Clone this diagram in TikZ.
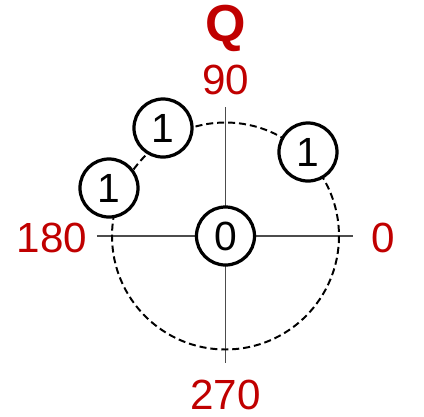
\documentclass[tikz,border=0pt]{standalone}
\usepackage{fontspec}
\setmainfont{Liberation Sans}
\usepackage{tikz}
\usepackage{xcolor}
\definecolor{rojo}{RGB}{192,0,0}

\begin{document}
\begin{tikzpicture}[x=0.025cm, y=-0.025cm,
			 punto/.style={circle, draw, line width=2.3pt, fill=white, minimum size=1.45cm, inner sep=0pt, font=\fontsize{29}{29}\selectfont},
			 etiqueta/.style={text=rojo, inner sep=0pt, font=\fontsize{30}{30}\selectfont},
			 eje/.style={black!70, line width=1.2pt}
  		]
	\useasboundingbox (0,0) rectangle (424,417);

	%Ejes
		\coordinate (c) at (225.5,236);
		\coordinate (izq) at (97,236);
		\coordinate (der) at (353,236);
		\coordinate (arr) at (225.5,107);
		\coordinate (aba) at (225.5,363);
		\draw[eje] (izq) -- (der);
		\draw[eje] (arr) -- (aba);
	%Circulo punteado
		\draw[dash pattern=on 5pt off 2.8pt, line width=1.4pt] (c) circle (113.5);

	%Creamos los puntos
		\node[punto] (p0) at (c) {0};
		\node[punto] (p1) at (163,128) {1};
		\node[punto] (p2) at (109,188) {1};
		\node[punto] (p3) at (308,152) {1};

	%Etiquetas
		\node[text=rojo, inner sep=0pt, font=\fontsize{37}{37}\selectfont\bfseries] (q) at (225.5,28) {Q};
		\node[etiqueta] (e90) at (225.5,80) {90};
		\node[etiqueta] (e180) at (52,238) {180};
		\node[etiqueta] (e0) at (383,238) {0};
		\node[etiqueta] (e270) at (225.5,395) {270};
	\end{tikzpicture}
\end{document}
